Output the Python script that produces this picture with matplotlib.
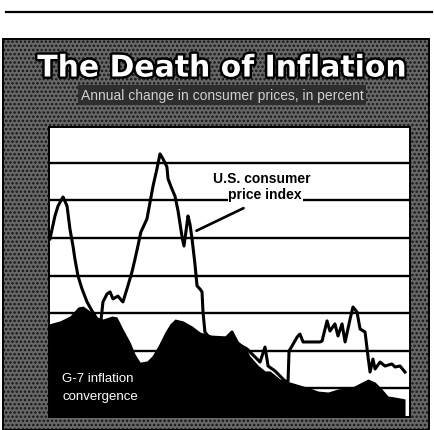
"""The Death of Inflation: U.S. CPI line over the G-7 convergence area (newsprint style)."""
import matplotlib
matplotlib.use("Agg")
import matplotlib.pyplot as plt
import matplotlib.patheffects as pe
from matplotlib.patches import Rectangle
from matplotlib.lines import Line2D

PAPER = "#ffffff"
INK = "#000000"
SCREEN = "#686868"

# U.S. consumer price index, annual % change
cpi_year = [1974.47, 1974.73, 1974.89, 1975.15, 1975.36, 1975.51, 1975.67, 1975.77, 1975.93,
            1976.14, 1976.40, 1976.66, 1976.92, 1977.08, 1977.23, 1977.44, 1977.60, 1977.75,
            1978.01, 1978.22, 1978.27, 1978.48, 1978.74, 1978.90, 1979.05, 1979.20, 1979.52,
            1979.84, 1980.04, 1980.20, 1980.36, 1980.56, 1980.62, 1980.82, 1980.98, 1981.14,
            1981.35, 1981.45, 1981.66, 1981.76, 1981.87, 1982.02, 1982.13, 1982.28, 1982.39,
            1982.44, 1982.54, 1982.70, 1983.06, 1983.59, 1983.95, 1984.26, 1984.73, 1985.15,
            1985.41, 1985.67, 1985.83, 1986.19, 1986.71, 1986.87, 1986.92, 1987.08, 1987.34,
            1987.49, 1987.65, 1988.01, 1988.53, 1988.64, 1988.90, 1989.05, 1989.31, 1989.47,
            1989.68, 1989.84, 1990.10, 1990.25, 1990.46, 1990.62, 1990.88, 1991.03, 1991.14,
            1991.29, 1991.40, 1991.66, 1991.92, 1992.28, 1992.44, 1992.70, 1992.96]
cpi_pct = [9.95, 11.17, 11.70, 12.18, 11.70, 10.48, 9.57, 8.88, 7.98,
           7.29, 6.60, 6.12, 5.69, 5.16, 6.60, 7.02, 7.13, 6.76,
           6.91, 6.65, 6.60, 7.29, 8.19, 8.88, 9.57, 10.30, 11.01,
           12.77, 13.67, 14.47, 14.20, 13.78, 13.14, 12.61, 12.23, 11.44,
           10.05, 9.57, 11.17, 10.74, 9.95, 8.62, 7.45, 7.29, 7.13,
           6.06, 5.00, 4.79, 4.63, 4.63, 5.00, 4.36, 4.10, 3.67,
           3.40, 4.20, 3.19, 2.93, 2.39, 2.39, 3.99, 4.26, 4.73,
           4.89, 4.47, 4.47, 4.47, 4.52, 5.59, 5.05, 5.43, 4.79,
           5.43, 4.47, 5.69, 6.33, 6.06, 5.16, 5.00, 3.72, 2.87,
           3.56, 3.03, 3.40, 3.19, 3.30, 3.14, 3.19, 2.87]

# G-7 inflation convergence (filled black area)
g7_year = [1974.42, 1974.99, 1975.51, 1975.93, 1976.19, 1976.55, 1976.92, 1977.23, 1977.70,
           1977.96, 1978.27, 1978.64, 1978.90, 1979.16, 1979.52, 1979.78, 1980.10, 1980.46,
           1980.72, 1980.98, 1981.40, 1981.87, 1982.28, 1982.80, 1983.69, 1983.95, 1984.26,
           1984.63, 1984.89, 1985.30, 1985.67, 1985.93, 1986.45, 1986.97, 1987.49, 1988.01,
           1988.43, 1988.95, 1989.47, 1990.20, 1990.72, 1991.03, 1991.40, 1991.76, 1992.07,
           1992.44, 1992.96]
g7_val = [5.43, 5.59, 5.85, 6.33, 6.38, 6.12, 5.80, 5.69, 5.85,
          5.80, 5.16, 4.47, 3.83, 3.40, 3.46, 3.72, 4.26, 5.00,
          5.43, 5.69, 5.59, 5.32, 5.00, 4.84, 4.79, 5.05, 4.52,
          4.20, 3.72, 3.24, 2.93, 2.93, 2.50, 2.34, 2.18, 2.02,
          1.86, 1.81, 1.97, 2.07, 2.34, 2.50, 2.34, 1.97, 1.60,
          1.54, 1.44]

grid_levels = [2, 4, 6, 8, 10, 12, 14]

W, H = 434, 431
fig = plt.figure(figsize=(W / 100, H / 100), dpi=100)
fig.patch.set_facecolor(PAPER)

def fx(px):
    return px / W

def fy(py):
    return 1 - py / H

# rule above the graphic
fig.add_artist(Line2D([fx(6), fx(432)], [fy(13), fy(13)], color=INK, linewidth=1.6))

# halftone box behind everything
plt.rcParams["hatch.linewidth"] = 1.2
box = Rectangle((fx(3), fy(431)), fx(426), fy(40) - fy(431), transform=fig.transFigure,
                facecolor=SCREEN, edgecolor="#151515", hatch="....", linewidth=0, zorder=0)
fig.add_artist(box)
fig.add_artist(Rectangle((fx(3), fy(431)), fx(426), fy(40) - fy(431), transform=fig.transFigure,
                         facecolor="none", edgecolor=INK, linewidth=1.4, zorder=1))

fig.text(fx(222), fy(69), "The Death of Inflation", ha="center", va="center",
         fontsize=21.5, fontweight="bold", family="DejaVu Sans", color="white",
         path_effects=[pe.withStroke(linewidth=3.5, foreground=INK)], zorder=3)
fig.text(fx(222), fy(96), "Annual change in consumer prices, in percent", ha="center", va="center",
         fontsize=10, family="Liberation Sans", color="#d0d0d0",
         bbox=dict(facecolor="#2e2e2e", edgecolor="none", pad=2), zorder=3)

ax = fig.add_axes([fx(49), fy(418), fx(410) - fx(49), fy(128) - fy(418)])
ax.set_facecolor(PAPER)
ax.set_zorder(2)

for lv in grid_levels:
    ax.axhline(lv, color=INK, linewidth=1.7, zorder=1)

ax.fill_between(g7_year, g7_val, 0, color=INK, linewidth=0, zorder=2)
ax.plot(cpi_year, cpi_pct, color=INK, linewidth=2.2, solid_joinstyle="round", zorder=3)

ax.set_xlim(1974.42, 1993.22)
ax.set_ylim(0.48, 15.9)
ax.set_xticks([])
ax.set_yticks([])
for s in ax.spines.values():
    s.set_color(INK)
    s.set_linewidth(1.4)

# labels
lab = dict(fontsize=10, fontweight="bold", family="Liberation Sans", color=INK,
           va="baseline", ha="left", zorder=5,
           bbox=dict(facecolor=PAPER, edgecolor="none", pad=0.5))
ax.text(1982.98, (427 - 183) / 18.8, "U.S. consumer", **lab)
ax.text(1983.76, (427 - 199) / 18.8, "price index", **lab)
ax.annotate("", xy=(1981.97, (427 - 233) / 18.8), xytext=(1984.68, (427 - 208) / 18.8),
            arrowprops=dict(arrowstyle="-", color=INK, linewidth=1.9), zorder=5)

ax.text(1975.1, (427 - 382) / 18.8, "G-7 inflation", fontsize=9.5, family="Liberation Sans",
        color="white", va="baseline", ha="left", zorder=5)
ax.text(1975.1, (427 - 400) / 18.8, "convergence", fontsize=9.5, family="Liberation Sans",
        color="white", va="baseline", ha="left", zorder=5)

fig.savefig("out.png", dpi=100, facecolor=PAPER)
